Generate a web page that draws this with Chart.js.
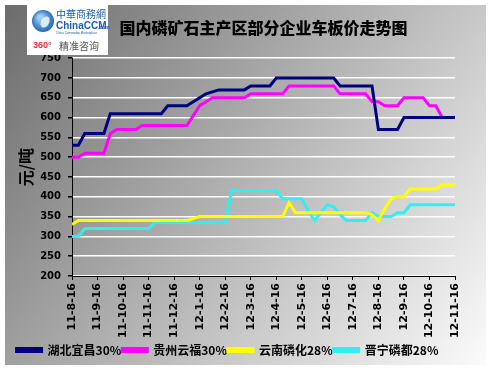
<!DOCTYPE html>
<html>
<head>
<meta charset="utf-8">
<script src="https://cdn.jsdelivr.net/npm/chart.js@4"></script>
<style>
  html, body { margin: 0; padding: 0; background: #fff; }
  #wrap { width: 491px; height: 370px; }
</style>
</head>
<body>
<div id="wrap"><canvas id="chart" width="491" height="370"></canvas></div>
<script>
// month tick labels (one per month, weekly data between them)
const monthLabels = ['11-8-16', '11-9-16', '11-10-16', '11-11-16', '11-12-16', '12-1-16', '12-2-16', '12-3-16',
    '12-4-16', '12-5-16', '12-6-16', '12-7-16', '12-8-16', '12-9-16', '12-10-16', '12-11-16'];
const weeksPerMonth = 4;

const seriesNames = ['湖北宜昌30%', '贵州云福30%', '云南磷化28%', '晋宁磷都28%'];

// weekly prices, yuan/ton
const hubeiYichang = [530, 530, 560, 560, 560, 560,
    610, 610, 610, 610, 610, 610, 610, 610, 610,
    630, 630, 630, 630, 640, 650, 660, 665,
    670, 670, 670, 670, 670, 680, 680, 680, 680,
    700, 700, 700, 700, 700, 700, 700, 700, 700, 700,
    680, 680, 680, 680, 680, 680,
    570, 570, 570, 570,
    600, 600, 600, 600, 600, 600, 600, 600, 600];
const guizhouYunfu = [500, 500, 510, 510, 510, 510, 560, 570, 570, 570, 570,
    580, 580, 580, 580, 580, 580, 580, 580, 605, 630, 640,
    650, 650, 650, 650, 650, 650, 660, 660, 660, 660, 660, 660,
    680, 680, 680, 680, 680, 680, 680, 680,
    660, 660, 660, 660, 660, 640, 640, 630, 630, 630,
    650, 650, 650, 650, 630, 630, 600, 600, 600];
const yunnanLinhua = [330, 340, 340, 340, 340, 340, 340, 340, 340, 340, 340, 340, 340, 340, 340, 340, 340, 340, 340,
    345, 350, 350, 350, 350, 350, 350, 350, 350, 350, 350, 350, 350, 350, 350,
    385, 360, 360, 360, 360, 360, 360, 360, 360, 360, 360, 360, 360,
    355, 340, 370, 395, 400, 400, 420, 420, 420, 420, 420, 430, 430, 430];
const jinningLindu = [300, 300, 320, 320, 320, 320, 320, 320, 320, 320, 320, 320, 320,
    335, 335, 335, 335, 335, 335, 335, 335, 335, 335, 335, 335,
    415, 415, 415, 415, 415, 415, 415, 415,
    395, 395, 395, 395, 365, 340, 360, 380, 375, 355,
    340, 340, 340, 340, 360, 350, 350, 350, 360, 360,
    380, 380, 380, 380, 380, 380, 380, 380];

const lineColors = ['#000080', '#FF00FF', '#FFFF00', '#33EEEE'];

function toPoints(values) {
    return values.map((v, i) => ({ x: i / weeksPerMonth, y: v }));
}

const allSeries = [hubeiYichang, guizhouYunfu, yunnanLinhua, jinningLindu];

const backdrop = {
    id: 'backdrop',
    beforeDraw(chart) {
        const ctx = chart.ctx;
        ctx.save();
        ctx.fillStyle = '#ffffff';
        ctx.fillRect(0, 0, chart.width, chart.height);
        const g = ctx.createLinearGradient(5, 5, 486, 365);
        g.addColorStop(0, '#6c6c6c');
        g.addColorStop(0.5, '#b4b4b4');
        g.addColorStop(1, '#fbfbfb');
        ctx.fillStyle = g;
        ctx.fillRect(5, 5, 481, 360);
        ctx.restore();
    }
};

const logo = {
    id: 'logo',
    afterDraw(chart) {
        const ctx = chart.ctx;
        ctx.save();
        ctx.fillStyle = '#ffffff';
        ctx.fillRect(27, 5, 81, 50);
        // globe
        const rg = ctx.createRadialGradient(40, 17, 2, 43, 21, 12);
        rg.addColorStop(0, '#9fd0f5');
        rg.addColorStop(1, '#1a5fb0');
        ctx.fillStyle = rg;
        ctx.beginPath();
        ctx.arc(43, 21, 11, 0, Math.PI * 2);
        ctx.fill();
        ctx.fillStyle = '#d8ecfa';
        ctx.beginPath();
        ctx.ellipse(45, 22, 4, 6, 0.5, 0, Math.PI * 2);
        ctx.fill();
        ctx.textBaseline = 'middle';
        ctx.textAlign = 'left';
        ctx.fillStyle = '#1d5fae';
        ctx.font = '10px "Noto Sans CJK SC"';
        ctx.fillText('中華商務網', 56, 14);
        ctx.font = 'bold 10px "Liberation Sans"';
        ctx.fillText('ChinaCCM', 56, 26);
        ctx.font = 'bold 5px "Liberation Sans"';
        ctx.fillText('.com', 98, 28);
        ctx.font = '3px "Liberation Sans"';
        ctx.fillText('China Commodity Marketplace', 56, 33);
        ctx.fillStyle = '#e0303a';
        ctx.font = 'bold 9px "Liberation Sans"';
        ctx.fillText('360°', 33, 46);
        ctx.fillStyle = '#555555';
        ctx.font = '10px "Noto Sans CJK SC"';
        ctx.fillText('精准咨询', 59, 46);
        ctx.restore();
    }
};

new Chart(document.getElementById('chart'), {
    type: 'line',
    data: {
        datasets: allSeries.map((values, k) => ({
            label: seriesNames[k],
            data: toPoints(values),
            borderColor: lineColors[k],
            backgroundColor: lineColors[k],
            borderWidth: 3,
            pointRadius: 0,
            tension: 0,
            fill: false
        }))
    },
    options: {
        responsive: false,
        animation: false,
        layout: { padding: { left: 0, right: 36, top: 0, bottom: 4 } },
        scales: {
            x: {
                type: 'linear',
                min: 0,
                max: monthLabels.length - 1,
                afterFit: s => { s.height = 67; },
                border: { color: '#000', width: 1 },
                grid: { drawOnChartArea: false, tickColor: '#000', tickLength: 4 },
                ticks: {
                    stepSize: 1,
                    autoSkip: false,
                    maxRotation: 90,
                    minRotation: 90,
                    padding: 3,
                    color: '#000',
                    font: { family: 'DejaVu Sans', weight: 'bold', size: 11 },
                    callback: v => monthLabels[v] || ''
                }
            },
            y: {
                min: 200,
                max: 750,
                afterFit: s => { s.width = 72; },
                border: { color: '#000', width: 1 },
                grid: { color: '#ffffff', lineWidth: 1.5, tickColor: '#000', tickLength: 4 },
                ticks: {
                    stepSize: 50,
                    padding: 7,
                    color: '#000',
                    font: { family: 'DejaVu Sans', weight: 'bold', size: 10 }
                },
                title: {
                    display: true,
                    text: '元/吨',
                    color: '#000',
                    padding: { top: 16, bottom: 0 },
                    font: { family: 'Noto Sans CJK SC', weight: 'bold', size: 16 }
                }
            }
        },
        plugins: {
            title: {
                display: true,
                fullSize: false,
                text: '国内磷矿石主产区部分企业车板价走势图',
                color: '#000',
                padding: { top: 18, bottom: 21 },
                font: { family: 'Noto Sans CJK SC', weight: '900', size: 16 }
            },
            legend: {
                position: 'bottom',
                labels: {
                    boxWidth: 25,
                    boxHeight: 3,
                    padding: 1,
                    color: '#000',
                    font: { family: 'Noto Sans CJK SC', weight: 'bold', size: 12 }
                }
            },
            tooltip: { enabled: false }
        }
    },
    plugins: [backdrop, logo]
});
</script>
</body>
</html>
